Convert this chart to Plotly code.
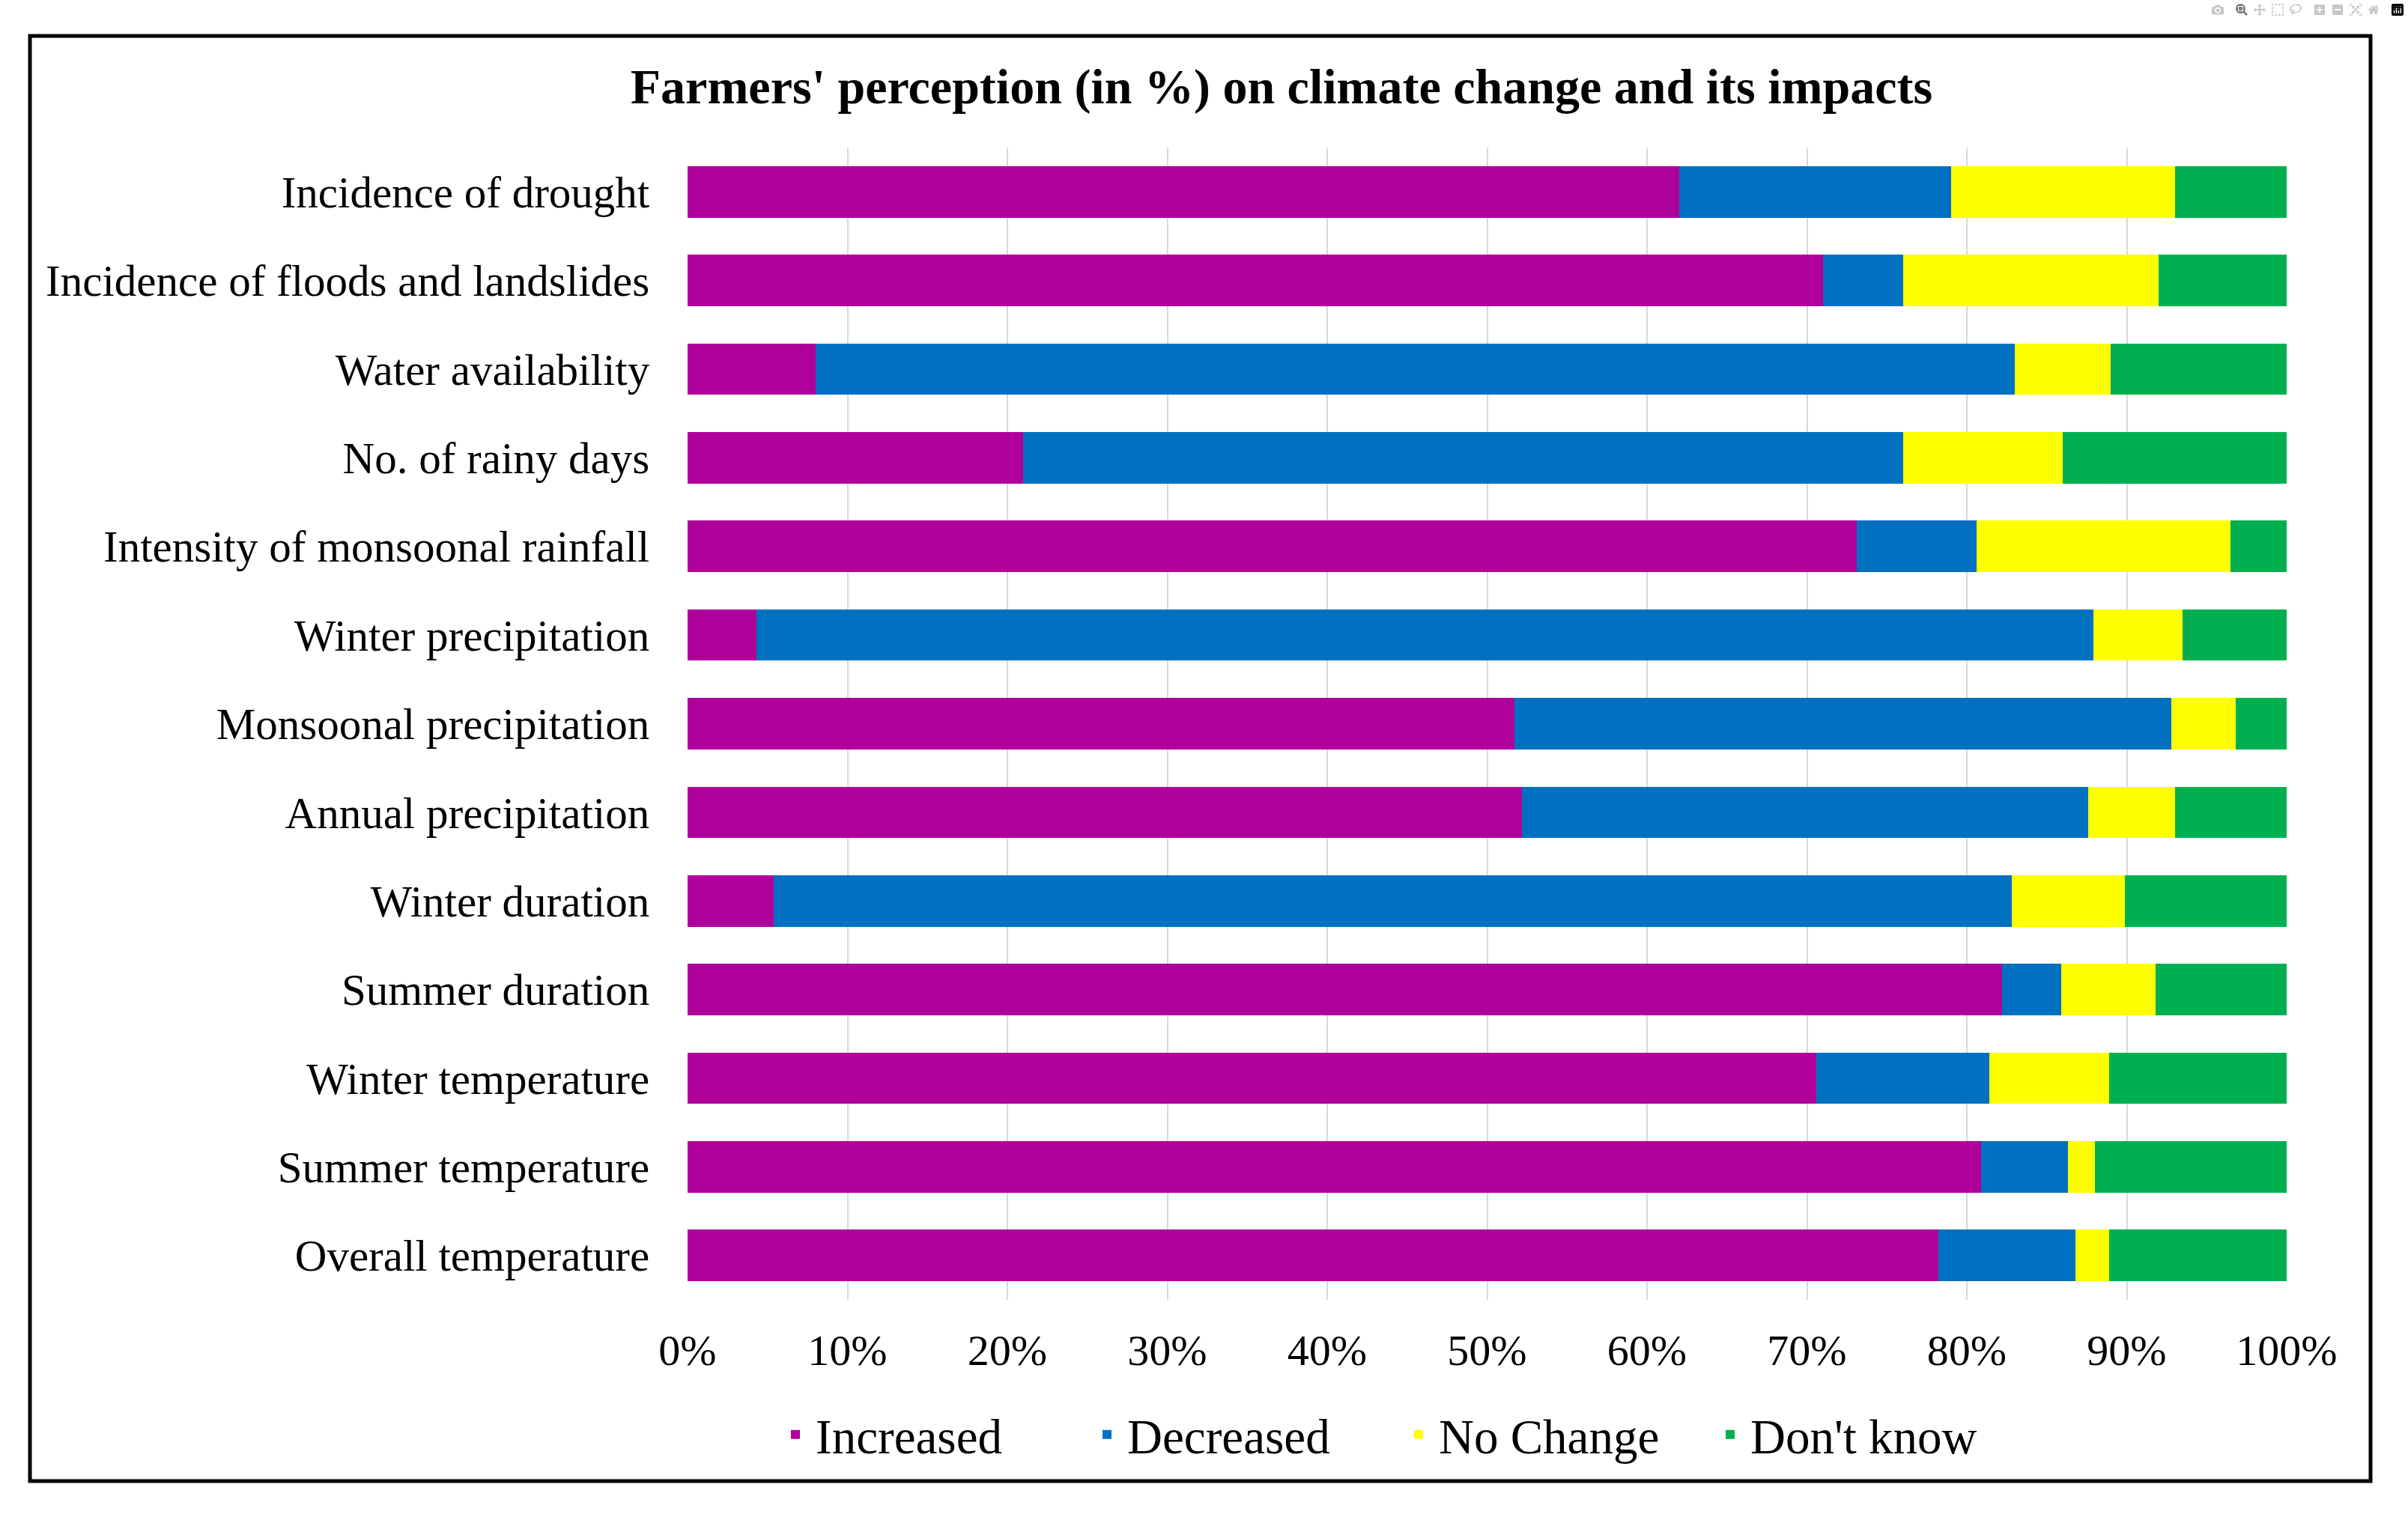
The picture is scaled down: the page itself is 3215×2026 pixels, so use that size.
import plotly.graph_objects as go

categories = [
    "Incidence of drought",
    "Incidence of floods and landslides",
    "Water availability",
    "No. of rainy days",
    "Intensity of monsoonal rainfall",
    "Winter precipitation",
    "Monsoonal precipitation",
    "Annual precipitation",
    "Winter duration",
    "Summer duration",
    "Winter temperature",
    "Summer temperature",
    "Overall temperature",
]
increased = [62, 71, 8, 21, 73.1, 4.3, 51.7, 52.2, 5.4, 82.2, 70.6, 80.9, 78.2]
decreased = [17, 5, 75, 55, 7.5, 83.6, 41.1, 35.4, 77.4, 3.7, 10.8, 5.4, 8.6]
no_change = [14, 16, 6, 10, 15.9, 5.6, 4.0, 5.4, 7.1, 5.9, 7.5, 1.7, 2.1]
dont_know = [7, 8, 11, 14, 3.5, 6.5, 3.2, 7.0, 10.1, 8.2, 11.1, 12.0, 11.1]

series = [
    ("Increased", increased, "#B0009B"),
    ("Decreased", decreased, "#0070C0"),
    ("No Change", no_change, "#FFFF00"),
    ("Don't know", dont_know, "#00B050"),
]
tick_vals = [0, 10, 20, 30, 40, 50, 60, 70, 80, 90, 100]
tick_text = ["0%", "10%", "20%", "30%", "40%", "50%", "60%", "70%", "80%", "90%", "100%"]

FONT = "Liberation Serif, Times New Roman, serif"
W, H = 3215, 2026
L, R, T, B = 918, 162, 197, 290
pw, ph = W - L - R, H - T - B

fig = go.Figure()
for name, vals, color in series:
    fig.add_trace(go.Bar(
        y=categories, x=vals, name=name, orientation="h",
        marker=dict(color=color, line=dict(width=0)),
    ))

def px2fx(px):
    return (px - L) / pw

def py2fy(py):
    return (H - B - py) / ph

fig.update_layout(
    width=W, height=H,
    margin=dict(l=L, r=R, t=T, b=B, autoexpand=False),
    barmode="stack", bargap=0.42,
    paper_bgcolor="white", plot_bgcolor="white",
    font=dict(family=FONT, color="black", size=58),
    title=dict(
        text="<b>Farmers' perception (in %) on climate change and its impacts</b>",
        x=1711 / W, xref="container", xanchor="center",
        y=1 - 115 / H, yref="container", yanchor="middle",
        font=dict(family=FONT, size=66, color="black"),
    ),
    xaxis=dict(
        range=[0, 100], tickvals=tick_vals, ticktext=tick_text,
        showgrid=True, gridcolor="#D9D9D9", gridwidth=2,
        zeroline=False, showline=False,
        ticks="outside", ticklen=16, tickcolor="rgba(0,0,0,0)",
        tickfont=dict(family=FONT, size=58, color="black"),
        fixedrange=True,
    ),
    yaxis=dict(
        autorange="reversed", showgrid=False, zeroline=False, showline=False,
        ticks="outside", ticklen=38, tickcolor="rgba(0,0,0,0)",
        tickfont=dict(family=FONT, size=59, color="black"),
    ),
    legend=dict(
        orientation="h", x=px2fx(1035), xanchor="left",
        y=py2fy(1916), yanchor="middle",
        font=dict(family=FONT, size=65, color="black"),
        itemwidth=44, traceorder="normal", bgcolor="rgba(0,0,0,0)",
        entrywidth=357, entrywidthmode="pixels",
    ),
    showlegend=True,
)

fig.add_shape(
    type="rect", xref="paper", yref="paper",
    x0=px2fx(40), x1=px2fx(3165), y0=py2fy(1978), y1=py2fy(48),
    line=dict(color="black", width=5), fillcolor="rgba(0,0,0,0)", layer="below",
)

fig.write_html("out.html", post_script="document.body.style.margin='0';")
